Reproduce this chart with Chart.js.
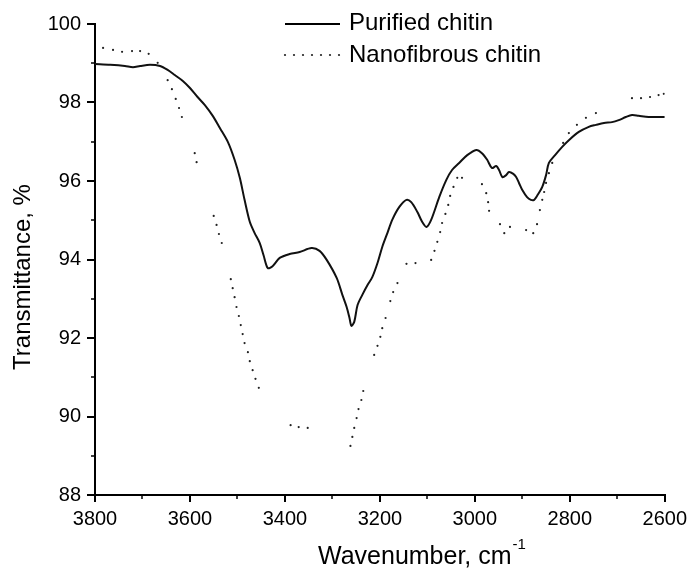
<!DOCTYPE html>
<html><head><meta charset="utf-8">
<script src="https://cdn.jsdelivr.net/npm/chart.js@4/dist/chart.umd.min.js"></script>
<style>html,body{margin:0;padding:0;background:#fff}#wrap{width:692px;height:570px;position:relative}canvas{display:block}</style>
</head><body><div id="wrap"><canvas id="c" width="692" height="570"></canvas></div>
<script>
const seriesNames = ['Purified chitin', 'Nanofibrous chitin'];
const xAxisTitle = 'Wavenumber, cm';
const xAxisTitleSup = '-1';
const yAxisTitle = 'Transmittance, %';
const xTicks = [3800, 3600, 3400, 3200, 3000, 2800, 2600];
const xMinorTicks = [3700, 3500, 3300, 3100, 2900, 2700];
const yTicks = [88, 90, 92, 94, 96, 98, 100];
const yMinorTicks = [89, 91, 93, 95, 97, 99];

const purifiedWavenumber = [3800,3768,3737,3720,3705,3684,3663,3647,3632,3615,3600,3584,3569,3552,3537,3520,3506,3495,3485,3474,3464,3453,3445,3436,3426,3411,3390,3369,3344,3327,3312,3291,3279,3270,3264,3260,3254,3247,3237,3226,3216,3205,3195,3184,3174,3159,3144,3134,3121,3111,3102,3092,3075,3060,3048,3033,3016,2997,2985,2974,2964,2955,2949,2942,2934,2928,2919,2913,2907,2900,2890,2882,2875,2869,2858,2850,2844,2831,2816,2802,2781,2760,2745,2728,2711,2697,2682,2669,2655,2634,2600];
const purifiedTransmittance = [98.98,98.96,98.93,98.90,98.93,98.96,98.93,98.83,98.70,98.55,98.37,98.14,97.94,97.66,97.35,96.99,96.54,96.08,95.52,94.96,94.68,94.42,94.11,93.78,93.83,94.04,94.14,94.19,94.29,94.22,93.99,93.53,93.10,92.79,92.51,92.31,92.41,92.84,93.10,93.35,93.55,93.91,94.32,94.68,95.01,95.34,95.52,95.46,95.21,94.96,94.83,95.01,95.59,96.03,96.28,96.46,96.66,96.79,96.71,96.54,96.33,96.38,96.28,96.10,96.15,96.23,96.18,96.10,95.95,95.77,95.59,95.52,95.52,95.62,95.85,96.15,96.46,96.66,96.87,97.04,97.25,97.38,97.43,97.48,97.50,97.55,97.63,97.68,97.66,97.63,97.63];

const nanoWavenumber = [3783,3762,3743,3722,3705,3687,3668,3647,3638,3630,3623,3617,3590,3586,3550,3544,3539,3533,3514,3510,3506,3502,3497,3493,3489,3485,3478,3474,3468,3462,3455,3388,3371,3352,3262,3258,3254,3249,3245,3239,3235,3212,3205,3199,3195,3188,3178,3172,3163,3144,3125,3092,3085,3079,3073,3069,3062,3056,3052,3045,3037,3027,2985,2976,2972,2970,2947,2938,2926,2892,2877,2869,2863,2858,2854,2850,2844,2837,2814,2802,2785,2766,2745,2669,2650,2631,2613,2602];
const nanoTransmittance = [99.39,99.34,99.29,99.31,99.31,99.24,99.01,98.57,98.34,98.09,97.86,97.63,96.71,96.48,95.11,94.88,94.65,94.42,93.50,93.27,93.04,92.79,92.56,92.33,92.10,91.87,91.64,91.41,91.18,90.96,90.73,89.78,89.73,89.71,89.25,89.48,89.71,89.96,90.19,90.42,90.65,91.57,91.80,92.03,92.25,92.51,92.94,93.17,93.40,93.89,93.91,93.99,94.22,94.45,94.70,94.93,95.16,95.39,95.62,95.85,96.08,96.08,95.92,95.69,95.46,95.24,94.90,94.67,94.83,94.75,94.67,94.90,95.26,95.52,95.72,95.95,96.20,96.46,96.97,97.22,97.43,97.61,97.73,98.11,98.11,98.14,98.19,98.22];

const FONT = '"Liberation Sans", Arial, sans-serif';
const pairs = (xs, ys) => xs.map((x, i) => ({x: x, y: ys[i]}));

const decorPlugin = {
  id: 'decor',
  afterDraw(chart) {
    const ctx = chart.ctx;
    const xs = chart.scales.x, ys = chart.scales.y;
    const area = chart.chartArea;
    ctx.save();
    ctx.strokeStyle = '#000';
    ctx.lineWidth = 1.5;
    ctx.beginPath();
    yMinorTicks.forEach(v => { const p = Math.round(ys.getPixelForValue(v)); ctx.moveTo(area.left - 4, p); ctx.lineTo(area.left, p); });
    xMinorTicks.forEach(v => { const p = Math.round(xs.getPixelForValue(v)); ctx.moveTo(p, area.bottom); ctx.lineTo(p, area.bottom + 4); });
    ctx.stroke();

    // legend
    const lx0 = 285, lx1 = 340, ly0 = 24, ly1 = 55;
    ctx.lineWidth = 2;
    ctx.beginPath(); ctx.moveTo(lx0, ly0); ctx.lineTo(lx1, ly0); ctx.stroke();
    ctx.fillStyle = '#222';
    for (let x = lx0; x <= lx1; x += 9) { ctx.beginPath(); ctx.arc(x, ly1, 1.1, 0, Math.PI * 2); ctx.fill(); }
    ctx.fillStyle = '#000';
    ctx.font = '24px ' + FONT;
    ctx.textBaseline = 'middle';
    ctx.textAlign = 'left';
    ctx.fillText(seriesNames[0], 349, ly0 - 1);
    ctx.fillText(seriesNames[1], 349, ly1);

    // x axis title with superscript
    ctx.font = '25px ' + FONT;
    ctx.textBaseline = 'alphabetic';
    const w1 = ctx.measureText(xAxisTitle).width;
    ctx.font = '15px ' + FONT;
    const w2 = ctx.measureText(xAxisTitleSup).width;
    const startX = 318;
    ctx.font = '25px ' + FONT;
    ctx.fillText(xAxisTitle, startX, 564);
    ctx.font = '15px ' + FONT;
    ctx.fillText(xAxisTitleSup, startX + w1 + 1, 549);

    // y axis title
    ctx.save();
    ctx.translate(23, 277);
    ctx.rotate(-Math.PI / 2);
    ctx.font = '24px ' + FONT;
    ctx.textAlign = 'center';
    ctx.textBaseline = 'middle';
    ctx.fillText(yAxisTitle, 0, 0);
    ctx.restore();
    ctx.restore();
  }
};

new Chart(document.getElementById('c'), {
  type: 'line',
  data: {
    datasets: [
      { label: seriesNames[0], data: pairs(purifiedWavenumber, purifiedTransmittance), borderColor: '#111', borderWidth: 2, pointRadius: 0, tension: 0.3, fill: false },
      { label: seriesNames[1], data: pairs(nanoWavenumber, nanoTransmittance), showLine: false, pointRadius: 1.1, pointBorderWidth: 0, pointBackgroundColor: '#222', borderColor: '#222' }
    ]
  },
  options: {
    responsive: false,
    animation: false,
    devicePixelRatio: 1,
    layout: { padding: { top: 24, right: 26, left: 0, bottom: 0 } },
    plugins: { legend: { display: false }, tooltip: { enabled: false }, title: { display: false } },
    scales: {
      x: {
        type: 'linear', reverse: true, min: 2600, max: 3800,
        afterBuildTicks: s => { s.ticks = xTicks.map(v => ({value: v})); },
        afterFit: s => { s.height = 75; },
        ticks: { color: '#000', font: { family: FONT, size: 20 }, padding: 5, maxRotation: 0, autoSkip: false, callback: v => String(v) },
        grid: { drawOnChartArea: false, drawTicks: true, tickLength: 7, color: '#000', lineWidth: 2 },
        border: { display: true, color: '#000', width: 2 },
        title: { display: false }
      },
      y: {
        min: 88, max: 100,
        afterBuildTicks: s => { s.ticks = yTicks.map(v => ({value: v})); },
        afterFit: s => { s.width = 95; },
        ticks: { color: '#000', font: { family: FONT, size: 20 }, padding: 6, autoSkip: false, callback: v => String(v) },
        grid: { drawOnChartArea: false, drawTicks: true, tickLength: 8, color: '#000', lineWidth: 2 },
        border: { display: true, color: '#000', width: 2 },
        title: { display: false }
      }
    }
  },
  plugins: [decorPlugin]
});
</script>
</body></html>
